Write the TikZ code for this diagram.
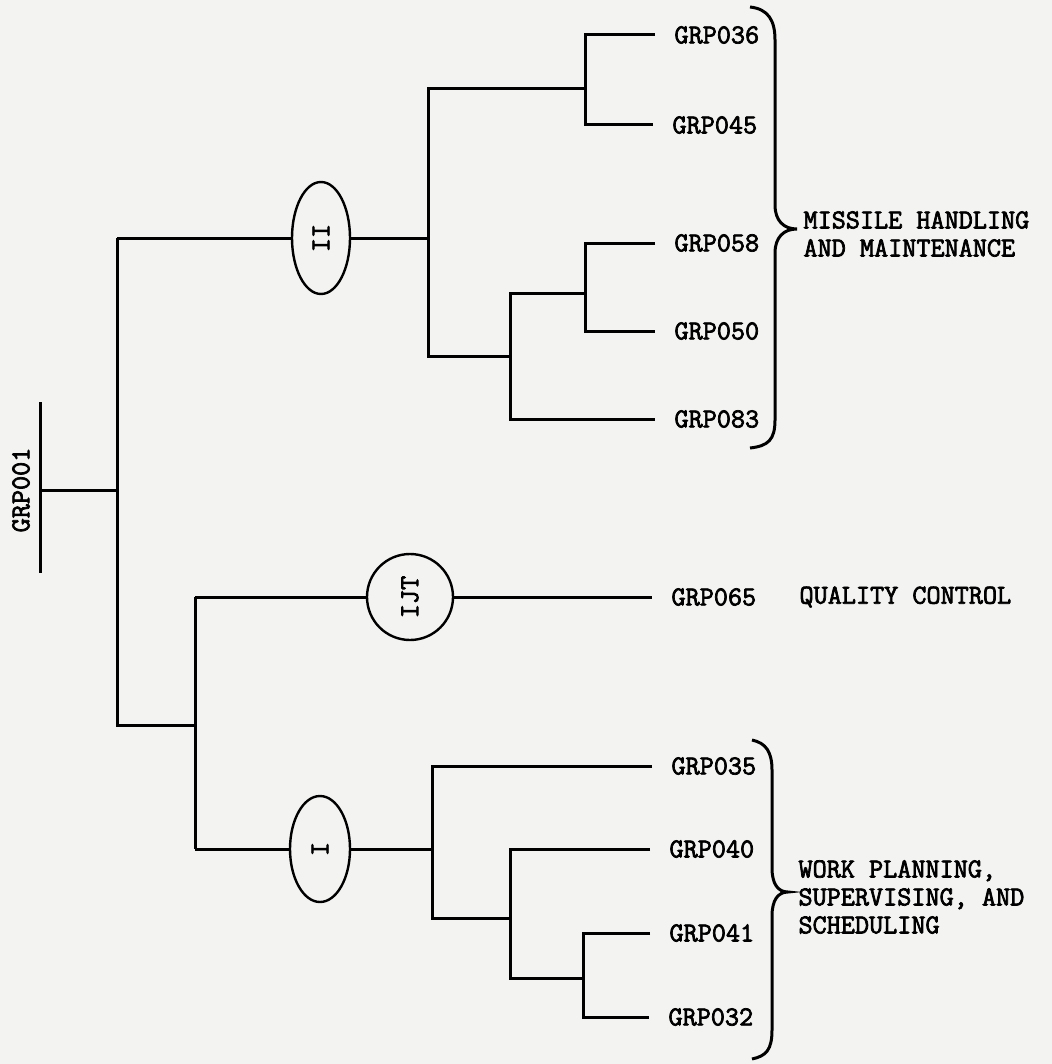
\documentclass[tikz,border=0pt]{standalone}
\usepackage{fontspec}
\newfontfamily\tw[FakeBold=2.6]{Latin Modern Mono}
\usetikzlibrary{shapes.geometric}
\definecolor{paper}{RGB}{243,243,241}
\begin{document}
\begin{tikzpicture}[x=0.5pt,y=-0.5pt, line width=1.5pt,
  tf/.style={font=\tw\fontsize{13.7}{14}\selectfont},
  lab/.style={tf, anchor=west, inner xsep=9pt, inner ysep=0pt},
  txt/.style={tf, anchor=west, inner sep=0pt, align=left},
  oval/.style={draw, ellipse, line width=1.2pt, inner sep=0pt, tf},
  circ/.style={draw, circle, line width=1.2pt, inner sep=0pt, minimum size=43pt, tf},
  brace/.style={line width=1.5pt}]
\fill[paper] (0,0) rectangle (1052,1064);
\useasboundingbox (0,0) rectangle (1052,1064);

% leaf labels
\node[lab] (g036) at (655,35) {GRP036};
\node[lab] (g045) at (653,125) {GRP045};
\node[lab] (g058) at (655,243) {GRP058};
\node[lab] (g050) at (655,331) {GRP050};
\node[lab] (g083) at (655,419) {GRP083};
\node[lab] (g065) at (652,597) {GRP065};
\node[lab] (g035) at (652,766) {GRP035};
\node[lab] (g040) at (650,849) {GRP040};
\node[lab] (g041) at (650,933) {GRP041};
\node[lab] (g032) at (649,1017) {GRP032};

% junctions
\coordinate (a1) at (585,89);
\coordinate (a2) at (585,293);
\coordinate (b2) at (510,356);
\coordinate (c1) at (428,238);
\coordinate (t0) at (117,238);
\coordinate (t1) at (117,490);
\coordinate (t2) at (117,725);
\coordinate (r0) at (40,490);
\coordinate (r1) at (40,402);
\coordinate (r2) at (40,573);
\coordinate (d0) at (195,725);
\coordinate (d1) at (195,597);
\coordinate (d2) at (195,849);
\coordinate (f0) at (432,849);
\coordinate (h0) at (510,918);
\coordinate (k0) at (583,978);

% upper tree
\draw (g036.west) -| (a1) |- (g045.west);
\draw (a1) -| (c1) |- (b2);
\draw (g058.west) -| (a2) |- (g050.west);
\draw (a2) -| (b2) |- (g083.west);
\node[oval, minimum width=29pt, minimum height=56pt] (e2) at (321,238) {\rotatebox{90}{II}};
\draw (t0) -- (e2) -- (c1);

% trunk
\node[rotate=90, tf, inner sep=0pt] (root) at (21,490) {GRP001};
\draw (r1) -- (r2);
\draw (r0) -- (t1);
\draw (t0) -- (t2) -- (d0);

% lower tree
\draw (d1) -- (d2);
\node[circ] (ijt) at (410,597) {\rotatebox{90}{IJT}};
\draw (d1) -- (ijt) -- (g065.west);
\node[oval, minimum width=30pt, minimum height=53pt] (e1) at (320,849) {\rotatebox{90}{I}};
\draw (d2) -- (e1) -- (f0);
\draw (g035.west) -| (f0) |- (h0);
\draw (g040.west) -| (h0) |- (k0);
\draw (g041.west) -| (k0) |- (g032.west);

% braces
\draw[brace] (750,7) .. controls (768,9) and (775,20) .. (775,40) -- (775,205)
  .. controls (775,221) and (784,229) .. (797,229)
  .. controls (784,229) and (775,237) .. (775,253) -- (775,420)
  .. controls (775,440) and (768,446) .. (750,448);
\draw[brace] (752,740) .. controls (766,743) and (772,752) .. (772,770) -- (772,868)
  .. controls (772,884) and (778,892) .. (788,892)
  .. controls (778,892) and (772,900) .. (772,916) -- (772,1030)
  .. controls (772,1050) and (766,1056) .. (752,1059);

% group texts
\node[txt] (mh) at (802,234) {MISSILE HANDLING\\AND MAINTENANCE};
\node[txt] (qc) at (798,597) {QUALITY CONTROL};
\node[txt] (wp) at (797,897) {WORK PLANNING,\\SUPERVISING, AND\\SCHEDULING};
\end{tikzpicture}
\end{document}
